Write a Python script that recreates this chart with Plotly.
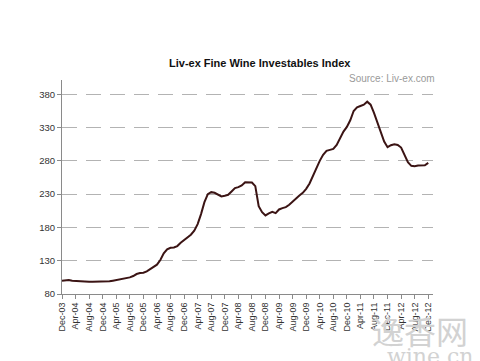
import plotly.graph_objects as go

# Monthly index values, Dec-03 .. Dec-12
index_values = [
    100, 100.5, 101, 100, 99.5, 99, 99.5, 98.5, 98.5, 98.5, 98.5, 98.5,
    98.5, 98.5, 99, 100, 101, 101.5, 102, 103, 105, 107, 110, 111.5,
    112, 114, 117, 120, 124, 131, 141, 147, 149.5, 150, 152, 157,
    161, 165, 169, 175, 185, 200, 218, 230, 233, 232, 229, 226.5,
    227.5, 229, 234, 239, 240.5, 243, 248, 247.5, 247.5, 242, 212, 203,
    198, 201, 203.5, 201.5, 207, 209, 210.5, 214, 219, 224, 228, 232,
    238, 246, 258, 269, 280, 289, 295, 296.5, 298, 304, 314, 324,
    331, 341, 355, 360.5, 362.5, 364.5, 369, 364.5, 352, 337, 322, 309,
    300.5, 303.5, 305, 304, 300, 289, 278, 272.5, 272, 273, 273, 273.5,
    277,
]
month_index = list(range(len(index_values)))

tick_positions = [0, 4, 8, 12, 16, 20, 24, 28, 32, 36, 40, 44, 48, 52,
                  56, 60, 64, 68, 72, 76, 80, 84, 88, 92, 96, 100, 104, 108]
tick_labels = ["Dec-03", "Apr-04", "Aug-04", "Dec-04", "Apr-05", "Aug-05",
               "Dec-05", "Apr-06", "Aug-06", "Dec-06", "Apr-07", "Aug-07",
               "Dec-07", "Apr-08", "Aug-08", "Dec-08", "Apr-09", "Aug-09",
               "Dec-09", "Apr-10", "Aug-10", "Dec-10", "Apr-11", "Aug-11",
               "Dec-11", "Apr-12", "Aug-12", "Dec-12"]
y_ticks = [80, 130, 180, 230, 280, 330, 380]

fig = go.Figure()
fig.add_trace(go.Scatter(
    x=month_index, y=index_values, mode="lines",
    line=dict(color="#3b1414", width=2),
    hoverinfo="skip", showlegend=False,
))

fig.update_layout(
    width=480, height=361,
    margin=dict(l=62, r=47, t=80, b=67),
    paper_bgcolor="white", plot_bgcolor="white",
    font=dict(family="Liberation Sans, Arial, sans-serif", size=10, color="#333333"),
    xaxis=dict(
        range=[0, 109.4], tickmode="array", tickvals=tick_positions,
        ticktext=tick_labels, tickangle=-90, showgrid=False, zeroline=False,
        showline=True, linecolor="#8a8a8a", linewidth=1,
        ticks="outside", ticklen=4, tickcolor="#8a8a8a",
        tickfont=dict(size=9, color="#333333"),
    ),
    yaxis=dict(
        range=[80, 401.5], tickmode="array", tickvals=y_ticks,
        showgrid=True, gridcolor="#b3b3b3", gridwidth=1, griddash="15px,9px",
        zeroline=False, showline=True, linecolor="#8a8a8a", linewidth=1,
        ticks="outside", ticklen=4, tickcolor="#8a8a8a",
        tickfont=dict(size=9.5, color="#333333"),
    ),
    annotations=[
        dict(text="<b>Liv-ex Fine Wine Investables Index</b>", xref="paper", yref="paper",
             x=(260 - 62) / 371, y=1 + (80 - 63) / 214,
             xanchor="center", yanchor="middle", showarrow=False,
             font=dict(size=11, color="#111111")),
        dict(text="Source: Liv-ex.com", xref="paper", yref="paper",
             x=(437 - 62) / 371, y=1 + (80 - 78) / 214,
             xanchor="right", yanchor="middle", showarrow=False,
             font=dict(size=10, color="#9a9a9a")),
        dict(text="逸香网", xref="paper", yref="paper",
             x=(420 - 62) / 371, y=-(330 - 294) / 214,
             xanchor="center", yanchor="middle", showarrow=False,
             font=dict(size=32, color="#d2d2d2", family="Noto Sans CJK SC")),
        dict(text="wine.cn", xref="paper", yref="paper",
             x=(430 - 62) / 371, y=-(356 - 294) / 214,
             xanchor="center", yanchor="middle", showarrow=False,
             font=dict(size=22, color="#d2d2d2", family="DejaVu Serif")),
    ],
)

fig.write_html("out.html")
